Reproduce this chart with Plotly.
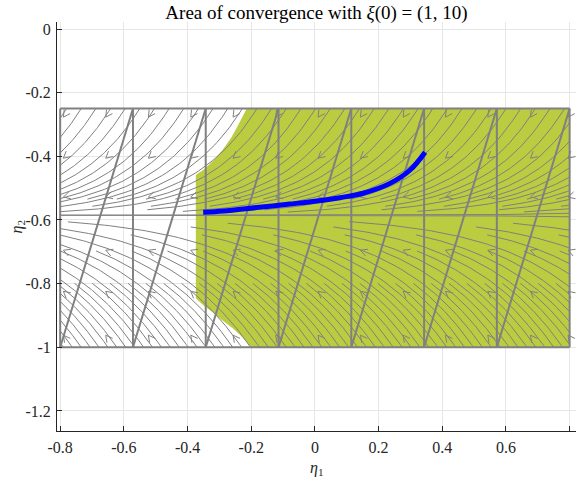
import numpy as np
import plotly.graph_objects as go

# ---------------- axes ----------------
x_tick_vals = [-0.8, -0.6, -0.4, -0.2, 0, 0.2, 0.4, 0.6, 0.8]
x_tick_text = ["-0.8", "-0.6", "-0.4", "-0.2", "0", "0.2", "0.4", "0.6", "0.8"]
y_tick_vals = [0, -0.2, -0.4, -0.6, -0.8, -1, -1.2]
y_tick_text = ["0", "-0.2", "-0.4", "-0.6", "-0.8", "-1", "-1.2"]

# ---------------- mesh ----------------
mesh_x = [-0.8, -0.5714, -0.3429, -0.1143, 0.1143, 0.3429, 0.5714, 0.8]
mesh_y = [-1.0, -0.25]

# ---------------- convergence region ----------------
region_x = [-0.214, -0.226, -0.240, -0.262, -0.290, -0.320, -0.350, -0.374, -0.374,
            -0.348, -0.321, -0.290, -0.258, -0.228, -0.200, 0.8, 0.8]
region_y = [-0.250, -0.275, -0.300, -0.340, -0.380, -0.415, -0.442, -0.459, -0.846,
            -0.870, -0.890, -0.916, -0.940, -0.968, -1.000, -1.0, -0.25]

# ---------------- trajectory ----------------
traj_x = [-0.351, -0.288, -0.183, -0.079, 0.026, 0.079, 0.151, 0.236, 0.299, 0.346]
traj_y = [-0.576, -0.572, -0.561, -0.550, -0.538, -0.530, -0.516, -0.485, -0.443, -0.387]

# ---------------- flow field ----------------
flow_eq_y = -0.585          # level the streamlines converge to
flow_rate_upper = 4.8       # dη2/dη1 = rate * (η2 - eq)
flow_rate_lower = 3.5
upper_seed_start, upper_seed_step = -0.78, 0.046   # crossings of the top edge
lower_seed_start, lower_seed_step = -0.79, 0.028   # crossings of the bottom edge
upper_min_gap = 0.010
lower_min_gap = 0.020
near_eq_y = [-0.579, -0.590]
arrow_cols = [-0.79, -0.657, -0.523, -0.39, -0.257, -0.123, 0.01, 0.143, 0.277, 0.41, 0.543, 0.677, 0.795]
arrow_rows = [-0.277, -0.406, -0.528, -0.695, -0.824, -0.962]

X_MIN, X_MAX = mesh_x[0], mesh_x[-1]
Y_TOP, Y_BOT = mesh_y[1], mesh_y[0]


def seg(x_from, x_to, x_ref, u_ref, rate):
    xx = np.linspace(x_to, x_from, 60)
    yy = flow_eq_y + u_ref * np.exp(rate * (xx - x_ref))
    return list(xx) + [None], list(yy) + [None]


def family(start, step, y_edge, rate, dmin):
    u0 = y_edge - flow_eq_y
    r = np.exp(-rate * step)
    xs_all, ys_all = [], []
    k = 1
    xt = start
    while True:
        level = (k & -k).bit_length() - 1
        gf = 1.0 - r ** (2 ** level)
        u_stop = max(dmin / gf, dmin)
        x_begin = min(xt, X_MAX)
        u_begin = abs(u0) * np.exp(rate * (x_begin - xt))
        if u_begin < dmin:
            break
        if u_begin > u_stop:
            x_end = xt + np.log(u_stop / abs(u0)) / rate
            x_end = max(X_MIN, x_end)
            if x_end < x_begin:
                a, b = seg(x_begin, x_end, xt, u0, rate)
                xs_all += a; ys_all += b
        k += 1
        xt += step
    return xs_all, ys_all


sx, sy = [], []
a, b = family(upper_seed_start, upper_seed_step, Y_TOP, flow_rate_upper, upper_min_gap)
sx += a; sy += b
a, b = family(lower_seed_start, lower_seed_step, Y_BOT, flow_rate_lower, lower_min_gap)
sx += a; sy += b
for yv in near_eq_y:
    u = yv - flow_eq_y
    rate = flow_rate_upper if u > 0 else flow_rate_lower
    a, b = seg(X_MAX, X_MIN, X_MAX, u, rate)
    sx += a; sy += b

# arrow heads
ax, ay = [], []
L = 0.024
th = np.deg2rad(28)
for gy in arrow_rows:
    for gx in arrow_cols:
        u = gy - flow_eq_y
        rate = flow_rate_upper if u > 0 else flow_rate_lower
        d = np.array([-1.0, -rate * u])
        d /= np.linalg.norm(d)
        back = -d
        for s in (th, -th):
            rv = np.array([back[0] * np.cos(s) - back[1] * np.sin(s),
                           back[0] * np.sin(s) + back[1] * np.cos(s)])
            ax += [gx, gx + L * rv[0], None]
            ay += [gy, gy + L * rv[1], None]

# mesh segments
mx, my = [], []
for xv in mesh_x:
    mx += [xv, xv, None]; my += [Y_BOT, Y_TOP, None]
for yv in mesh_y:
    mx += [X_MIN, X_MAX, None]; my += [yv, yv, None]
for i in range(len(mesh_x) - 1):
    mx += [mesh_x[i], mesh_x[i + 1], None]; my += [Y_BOT, Y_TOP, None]

grey = "rgb(128,128,128)"
green = "rgb(188,204,64)"
fig = go.Figure()
fig.add_trace(go.Scatter(x=region_x, y=region_y, fill="toself", fillcolor=green,
                         mode="lines", line=dict(width=0, color=green), hoverinfo="skip"))
fig.add_trace(go.Scatter(x=sx, y=sy, mode="lines", line=dict(color=grey, width=1), hoverinfo="skip"))
fig.add_trace(go.Scatter(x=ax, y=ay, mode="lines", line=dict(color=grey, width=1), hoverinfo="skip"))
fig.add_trace(go.Scatter(x=mx, y=my, mode="lines", line=dict(color=grey, width=2), hoverinfo="skip"))
fig.add_trace(go.Scatter(x=traj_x, y=traj_y, mode="lines", line=dict(color="#0000ff", width=5, shape="spline"),
                         hoverinfo="skip"))

font_family = "Liberation Serif"
axis_common = dict(ticks="inside", ticklen=5, tickcolor="#262626", showline=True, linecolor="#262626",
                   linewidth=1, showgrid=True, gridcolor="#e6e6e6", gridwidth=1, zeroline=False,
                   automargin=False, ticklabelstandoff=2,
                   tickfont=dict(family=font_family, size=16, color="#262626"), mirror=False)
fig.update_layout(
    width=579, height=481,
    margin=dict(l=57, r=3, t=22, b=50),
    plot_bgcolor="white", paper_bgcolor="white",
    font=dict(family=font_family, color="#262626"),
    showlegend=False,
    title=dict(text="Area of convergence with <i>ξ</i>(0) = (1, 10)", x=0.5, xref="paper",
               xanchor="center", y=0.975, yref="container", yanchor="middle",
               font=dict(family=font_family, size=19, color="black")),
    xaxis=dict(range=[-0.81, 0.82], tickvals=x_tick_vals, ticktext=x_tick_text, **axis_common),
    yaxis=dict(range=[-1.263, 0.022], tickvals=y_tick_vals, ticktext=y_tick_text, **axis_common),
    annotations=[
        dict(text="<i>η</i><sub>1</sub>", xref="paper", yref="paper", x=0.5, y=0, yshift=-37,
             showarrow=False, yanchor="middle", font=dict(family=font_family, size=16, color="#262626")),
        dict(text="<i>η</i><sub>2</sub>", xref="paper", yref="paper", x=0, y=0.5, xshift=-40,
             showarrow=False, textangle=-90, xanchor="center",
             font=dict(family=font_family, size=16, color="#262626")),
    ],
)
fig.write_html("out.html", config={"displayModeBar": False},
               post_script="document.body.style.margin='0';document.body.style.padding='0';")
